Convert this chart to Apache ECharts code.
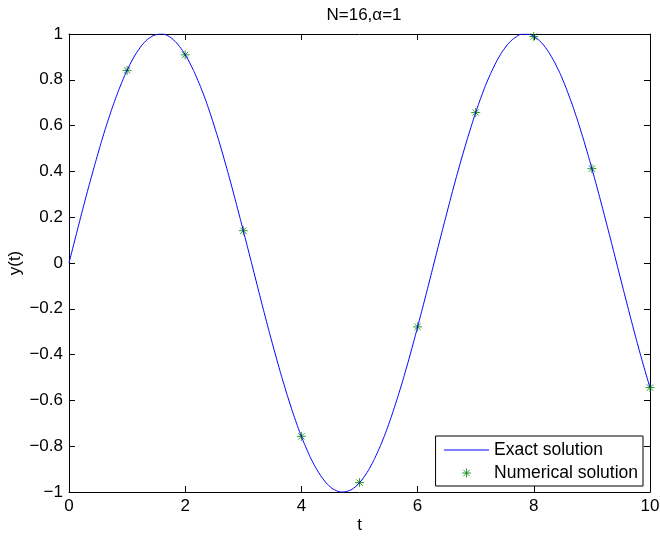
<!DOCTYPE html>
<html><head><meta charset="utf-8">
<script src="https://cdn.jsdelivr.net/npm/echarts@6/dist/echarts.min.js"></script>
<style>html,body{margin:0;padding:0;background:#fff}#c{width:660px;height:538px}</style>
</head><body><div id="c"></div>
<script>
const exactT = [0,0.1,0.2,0.3,0.4,0.5,0.6,0.7,0.8,0.9,1,1.1,1.2,1.3,1.4,1.5,1.6,1.7,1.8,1.9,2,2.1,2.2,2.3,2.4,2.5,2.6,2.7,2.8,2.9,3,3.1,3.2,3.3,3.4,3.5,3.6,3.7,3.8,3.9,4,4.1,4.2,4.3,4.4,4.5,4.6,4.7,4.8,4.9,5,5.1,5.2,5.3,5.4,5.5,5.6,5.7,5.8,5.9,6,6.1,6.2,6.3,6.4,6.5,6.6,6.7,6.8,6.9,7,7.1,7.2,7.3,7.4,7.5,7.6,7.7,7.8,7.9,8,8.1,8.2,8.3,8.4,8.5,8.6,8.7,8.8,8.9,9,9.1,9.2,9.3,9.4,9.5,9.6,9.7,9.8,9.9,10];
const exactY = [0,0.100,0.199,0.296,0.389,0.479,0.565,0.644,0.717,0.783,0.841,0.891,0.932,0.964,0.985,0.997,1.000,0.992,0.974,0.946,0.909,0.863,0.808,0.746,0.676,0.598,0.516,0.427,0.335,0.239,0.141,0.042,-0.058,-0.158,-0.256,-0.351,-0.443,-0.530,-0.612,-0.688,-0.757,-0.818,-0.872,-0.916,-0.952,-0.978,-0.994,-1.000,-0.996,-0.983,-0.959,-0.926,-0.884,-0.832,-0.773,-0.706,-0.631,-0.551,-0.465,-0.374,-0.279,-0.182,-0.083,0.017,0.117,0.215,0.312,0.405,0.494,0.578,0.657,0.729,0.794,0.850,0.899,0.938,0.968,0.988,0.999,0.999,0.989,0.970,0.941,0.902,0.855,0.799,0.734,0.663,0.585,0.501,0.412,0.319,0.223,0.125,0.025,-0.075,-0.174,-0.272,-0.367,-0.458,-0.544];
const numT = [1,2,3,4,5,6,7,8,9,10];
const numY = [0.841,0.909,0.141,-0.757,-0.959,-0.279,0.657,0.989,0.412,-0.544];
const titleText = 'N=16,\u03b1=1';
const xName = 't', yName = 'y(t)';
const seriesNames = ['Exact solution', 'Numerical solution'];

const FONT = '"Liberation Sans", Arial, Helvetica, sans-serif';
const FS = 17;
const star = 'path://M0,-10L0,10M-10,0L10,0M-7,-7L7,7M-7,7L7,-7';
const fmt = v => String(Math.round(v*10)/10).replace('-', '\u2212');

function axis(extra) {
  return Object.assign({
    type: 'value',
    axisLine: {show: true, onZero: false, lineStyle: {color: '#000', width: 1}},
    axisTick: {show: true, inside: true, length: 6, lineStyle: {color: '#000'}},
    splitLine: {show: false},
    axisLabel: {color: '#000', fontFamily: FONT, fontSize: FS, margin: 6}
  }, extra);
}
const chart = echarts.init(document.getElementById('c'), null, {renderer: 'canvas'});
chart.setOption({
  backgroundColor: '#fff',
  animation: false,
  title: {text: titleText, left: 359, textAlign: 'center', top: 2,
    textStyle: {fontFamily: FONT, fontSize: FS, fontWeight: 'normal', color: '#000'}},
  grid: {left: 69, top: 34, width: 581, height: 458, show: false,
    containLabel: false, outerBoundsMode: 'none'},
  legend: {
    orient: 'vertical', right: 17, top: 436,
    data: [
      {name: seriesNames[0], itemStyle: {color: 'transparent', borderColor: 'transparent', borderWidth: 0},
        lineStyle: {width: 1, color: '#0000ff'}},
      {name: seriesNames[1], itemStyle: {color: 'none', borderColor: '#008000', borderWidth: 1}}
    ],
    itemWidth: 45, itemHeight: 9, itemGap: 5,
    padding: [5, 5, 4, 8], borderColor: '#000', borderWidth: 1, backgroundColor: '#fff',
    textStyle: {fontFamily: FONT, fontSize: 17.5, color: '#000'}
  },
  xAxis: [
    axis({min: 0, max: 10, interval: 2, position: 'bottom',
      name: xName, nameLocation: 'middle', nameGap: 25, nameMoveOverlap: false,
      nameTextStyle: {fontFamily: FONT, fontSize: FS, color: '#000'}}),
    axis({min: 0, max: 10, interval: 2, position: 'top', axisLabel: {show: false}})
  ],
  yAxis: [
    axis({min: -1, max: 1, interval: 0.2, position: 'left',
      name: yName, nameLocation: 'middle', nameGap: 45, nameMoveOverlap: false,
      nameTextStyle: {fontFamily: FONT, fontSize: FS, color: '#000'},
      axisLabel: {color: '#000', fontFamily: FONT, fontSize: FS, margin: 6, formatter: fmt}}),
    axis({min: -1, max: 1, interval: 0.2, position: 'right', axisLabel: {show: false}})
  ],
  series: [
    {name: seriesNames[0], type: 'line', data: exactT.map((t, i) => [t, exactY[i]]),
      smooth: true, showSymbol: false, symbol: 'none',
      lineStyle: {color: '#0000ff', width: 1}, itemStyle: {color: '#0000ff'}},
    {name: seriesNames[1], type: 'scatter', data: numT.map((t, i) => [t, numY[i]]),
      symbol: star, symbolSize: 9,
      itemStyle: {color: 'none', borderColor: '#008000', borderWidth: 1}}
  ]
});
</script></body></html>
